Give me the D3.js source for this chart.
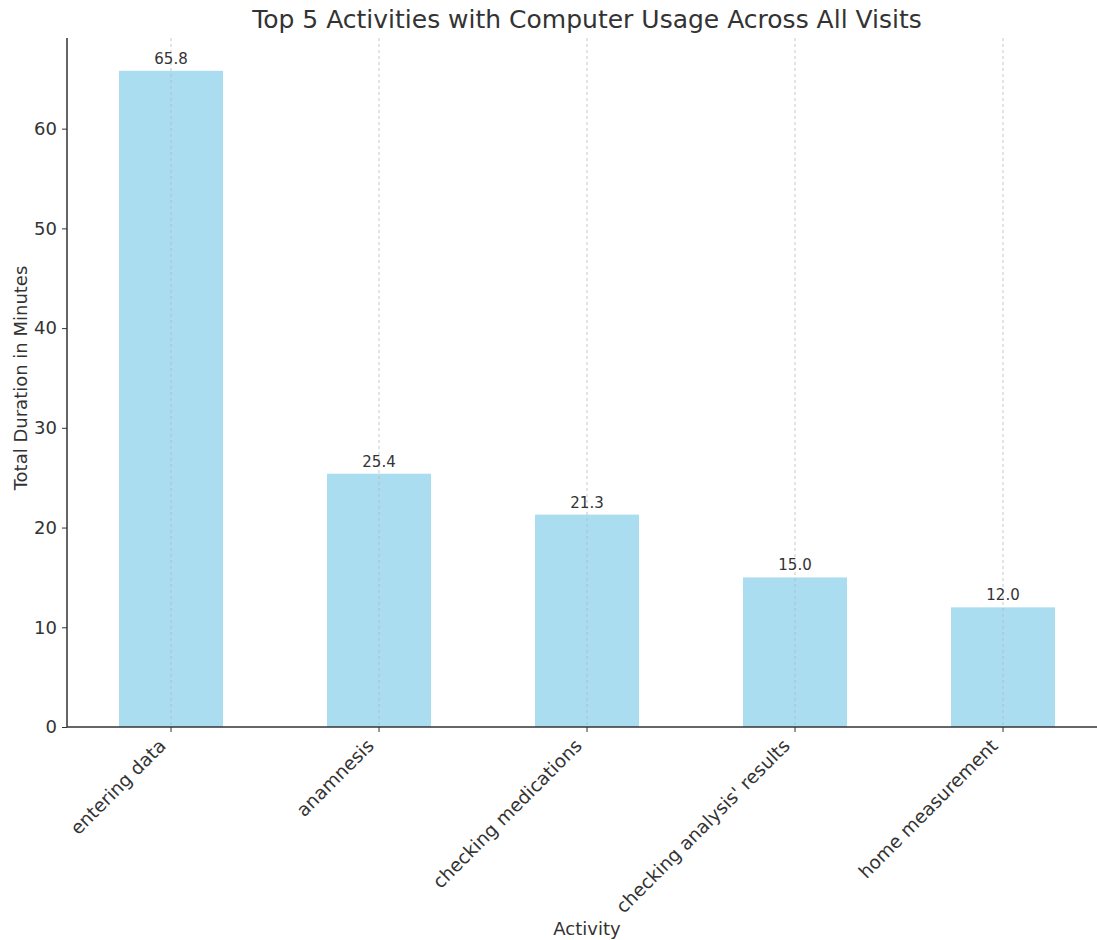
<!DOCTYPE html>
<html><head><meta charset="utf-8">
<script src="https://cdn.jsdelivr.net/npm/d3@7"></script>
<style>body{margin:0;background:#fff}svg{display:block;font-family:"DejaVu Sans",sans-serif}</style>
</head><body><svg id="c" width="1097" height="940"></svg>
<script>
const categories = ["entering data","anamnesis","checking medications","checking analysis' results","home measurement"];
const values = [65.8,25.4,21.3,15.0,12.0];
const yTicks = [0,10,20,30,40,50,60];

const svg = d3.select("#c");
const mLeft = 67, mRight = 1107, mTop = 38, mBottom = 727;
const x = d3.scaleBand().domain(categories).range([mLeft,mRight]).paddingInner(0.5).paddingOuter(0.25);
const y = d3.scaleLinear().domain([0, d3.max(values)*1.05]).range([mBottom, mTop]);
const txt = "#333";

// bars
svg.append("g").selectAll("rect").data(values).join("rect")
  .attr("x",(d,i)=>x(categories[i])).attr("width",x.bandwidth())
  .attr("y",d=>y(d)).attr("height",d=>mBottom-y(d))
  .attr("fill","#87CEEB").attr("fill-opacity",0.7);

// vertical grid
svg.append("g").selectAll("line").data(categories).join("line")
  .attr("x1",d=>x(d)+x.bandwidth()/2).attr("x2",d=>x(d)+x.bandwidth()/2)
  .attr("y1",mTop).attr("y2",mBottom)
  .attr("stroke","#b0b0b0").attr("stroke-opacity",0.7).attr("stroke-dasharray","3,3").attr("stroke-width",1);

// value labels
svg.append("g").selectAll("text").data(values).join("text")
  .attr("x",(d,i)=>x(categories[i])+x.bandwidth()/2).attr("y",d=>y(d)-7)
  .attr("text-anchor","middle").attr("font-size",15).attr("fill",txt)
  .text(d=>d.toFixed(1));

// y axis
const ya = svg.append("g").attr("transform",`translate(${mLeft},0)`)
  .call(d3.axisLeft(y).tickValues(yTicks).tickSize(5).tickPadding(5).tickFormat(d3.format("d")));
ya.select(".domain").attr("stroke","#333").attr("stroke-width",1.5).attr("d",`M0,${mTop}V${mBottom}`);
ya.selectAll(".tick line").attr("stroke","#333");
ya.selectAll(".tick text").attr("font-size",18).attr("fill",txt).attr("font-family","DejaVu Sans");

// x axis
const xa = svg.append("g").attr("transform",`translate(0,${mBottom})`)
  .call(d3.axisBottom(x).tickSize(5).tickPadding(4));
xa.select(".domain").attr("stroke","#333").attr("stroke-width",1.5).attr("d",`M${mLeft},0H${mRight}`);
xa.selectAll(".tick line").attr("stroke","#333");
xa.selectAll(".tick text").attr("font-size",18.5).attr("fill",txt).attr("font-family","DejaVu Sans")
  .attr("text-anchor","end").attr("x",0).attr("y",0).attr("dy",0).attr("transform","translate(-4,20) rotate(-45)");

// title and axis labels
svg.append("text").attr("x",587).attr("y",28).attr("text-anchor","middle")
  .attr("font-size",25).attr("fill",txt).text("Top 5 Activities with Computer Usage Across All Visits");
svg.append("text").attr("x",587).attr("y",935).attr("text-anchor","middle")
  .attr("font-size",18).attr("fill",txt).text("Activity");
svg.append("text").attr("transform",`translate(27,378) rotate(-90)`).attr("text-anchor","middle")
  .attr("font-size",18).attr("fill",txt).text("Total Duration in Minutes");
</script></body></html>
